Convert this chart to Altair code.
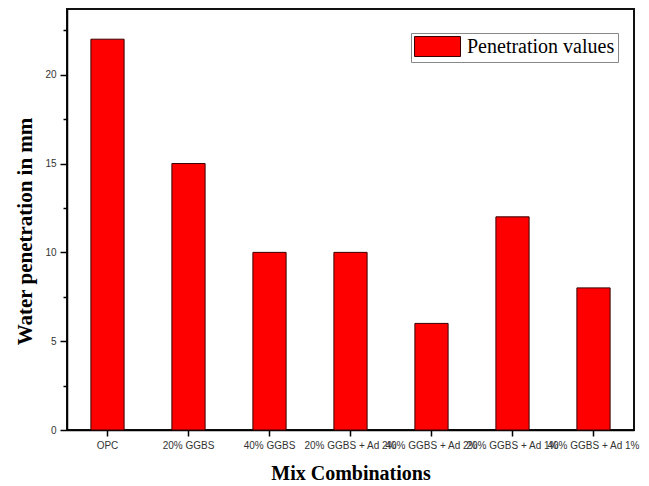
import altair as alt
import pandas as pd

categories = ["OPC", "20% GGBS", "40% GGBS", "20% GGBS + Ad 2%",
              "40% GGBS + Ad 2%", "20% GGBS + Ad 1%", "40% GGBS + Ad 1%"]
values = [22, 15, 10, 10, 6, 12, 8]
series = ["Penetration values"] * len(categories)
y_ticks = [0, 2.5, 5, 7.5, 10, 12.5, 15, 17.5, 20, 22.5]

df = pd.DataFrame({"mix": categories, "pen": values, "series": series})

xscale = alt.Scale(paddingInner=0.59, paddingOuter=0.295)
yscale = alt.Scale(domain=[0, 23.7], nice=False, zero=True)

bars = alt.Chart(df).mark_bar(stroke="#3a0000", strokeWidth=1).encode(
    x=alt.X("mix:N", sort=categories, scale=xscale,
            axis=alt.Axis(title="Mix Combinations", orient="bottom", labelAngle=0, labelOverlap=False,
                          labelFont="Liberation Sans", labelFontSize=10, labelColor="#333333",
                          labelPadding=4, tickSize=6, tickColor="black", tickWidth=1.5,
                          domainColor="black", domainWidth=1.5,
                          titleFont="Liberation Serif", titleFontSize=20, titleFontWeight="bold",
                          titleColor="black", titlePadding=13, labelBound=False)),
    y=alt.Y("pen:Q", scale=yscale,
            axis=alt.Axis(title="Water penetration in mm", orient="left", values=y_ticks,
                          labelExpr="datum.value % 5 === 0 ? datum.label : ''",
                          tickSize=alt.ExprRef("datum.value % 5 === 0 ? 7 : 4"),
                          grid=False, labelFont="Liberation Sans", labelFontSize=10,
                          labelColor="#333333", labelPadding=4, tickColor="black", tickWidth=1.5,
                          domainColor="black", domainWidth=1.5,
                          titleFont="Liberation Serif", titleFontSize=21,
                          titleFontWeight="bold", titleColor="black", titlePadding=9,
                          titleY=222)),
    color=alt.Color("series:N", scale=alt.Scale(range=["#ff0000"]),
                    legend=alt.Legend(title=None, orient="none", legendX=344, legendY=24,
                                      symbolType="M-1,-1L3.6,-1L3.6,1L-1,1Z",
                                      symbolSize=400, symbolStrokeColor="#3a0000",
                                      symbolStrokeWidth=1, symbolOpacity=1,
                                      labelFont="Liberation Serif", labelFontSize=20,
                                      labelColor="black", strokeColor="#888888",
                                      padding=3, labelOffset=32)),
)

chart = bars.properties(
    width=567, height=421,
    view=alt.ViewBackground(stroke="#111111", strokeWidth=2),
    autosize=alt.AutoSizeParams(type="none"),
    padding={"left": 59, "top": 1, "right": 7, "bottom": 56},
).configure_view(stroke="#111111", strokeWidth=2).configure(background="white")

chart.save("out.html", embed_options={"renderer": "svg", "actions": False})
